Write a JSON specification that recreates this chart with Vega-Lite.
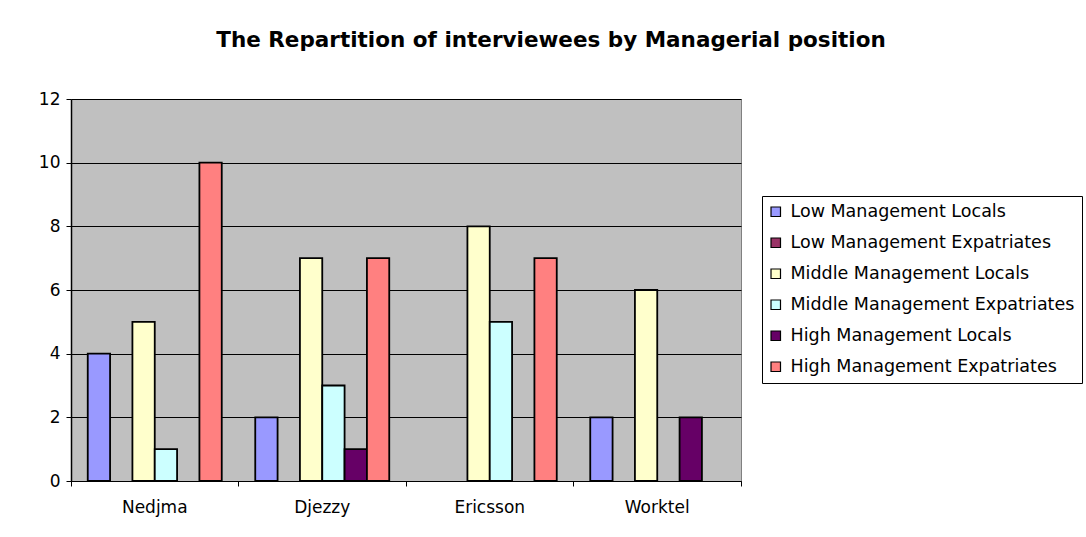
{
  "$schema": "https://vega.github.io/schema/vega-lite/v6.json",
  "autosize": {"type": "none"},
  "padding": {"left": 71, "top": 99, "right": 345, "bottom": 56},
  "width": 670,
  "height": 382,
  "background": "white",
  "title": {
    "text": "The Repartition of interviewees by Managerial position",
    "font": "DejaVu Sans",
    "fontSize": 21.5,
    "fontWeight": "bold",
    "color": "black",
    "anchor": "middle",
    "dx": 145,
    "offset": 39
  },
  "config": {
    "font": "DejaVu Sans",
    "view": {"fill": "#C0C0C0", "stroke": "#808080", "strokeWidth": 1}
  },
  "data": {
    "values": [
      {"company": "Nedjma", "series": "Low  Management Locals", "value": 4},
      {"company": "Nedjma", "series": "Low  Management Expatriates", "value": 0},
      {"company": "Nedjma", "series": "Middle Management Locals", "value": 5},
      {"company": "Nedjma", "series": "Middle Management Expatriates", "value": 1},
      {"company": "Nedjma", "series": "High Management Locals", "value": 0},
      {"company": "Nedjma", "series": "High Management Expatriates", "value": 10},
      {"company": "Djezzy", "series": "Low  Management Locals", "value": 2},
      {"company": "Djezzy", "series": "Low  Management Expatriates", "value": 0},
      {"company": "Djezzy", "series": "Middle Management Locals", "value": 7},
      {"company": "Djezzy", "series": "Middle Management Expatriates", "value": 3},
      {"company": "Djezzy", "series": "High Management Locals", "value": 1},
      {"company": "Djezzy", "series": "High Management Expatriates", "value": 7},
      {"company": "Ericsson", "series": "Low  Management Locals", "value": 0},
      {"company": "Ericsson", "series": "Low  Management Expatriates", "value": 0},
      {"company": "Ericsson", "series": "Middle Management Locals", "value": 8},
      {"company": "Ericsson", "series": "Middle Management Expatriates", "value": 5},
      {"company": "Ericsson", "series": "High Management Locals", "value": 0},
      {"company": "Ericsson", "series": "High Management Expatriates", "value": 7},
      {"company": "Worktel", "series": "Low  Management Locals", "value": 2},
      {"company": "Worktel", "series": "Low  Management Expatriates", "value": 0},
      {"company": "Worktel", "series": "Middle Management Locals", "value": 6},
      {"company": "Worktel", "series": "Middle Management Expatriates", "value": 0},
      {"company": "Worktel", "series": "High Management Locals", "value": 2},
      {"company": "Worktel", "series": "High Management Expatriates", "value": 0}
    ]
  },
  "transform": [{"filter": "datum.value > 0"}],
  "mark": {"type": "bar", "stroke": "black", "strokeWidth": 1.8},
  "encoding": {
    "x": {
      "field": "company",
      "type": "nominal",
      "sort": ["Nedjma", "Djezzy", "Ericsson", "Worktel"],
      "scale": {"domain": ["Nedjma", "Djezzy", "Ericsson", "Worktel"], "paddingInner": 0, "paddingOuter": 0},
      "axis": {
        "title": null,
        "labelAngle": 0,
        "labelFont": "DejaVu Sans",
        "labelFontSize": 17,
        "labelColor": "black",
        "labelPadding": 13,
        "domainColor": "black",
        "domainWidth": 1,
        "tickColor": "black",
        "tickSize": 5,
        "bandPosition": 1,
        "tickExtra": true
      }
    },
    "xOffset": {
      "field": "series",
      "type": "nominal",
      "scale": {
        "domain": ["Low  Management Locals", "Low  Management Expatriates", "Middle Management Locals", "Middle Management Expatriates", "High Management Locals", "High Management Expatriates"],
        "paddingInner": 0,
        "paddingOuter": 0.75
      }
    },
    "y": {
      "field": "value",
      "type": "quantitative",
      "scale": {"domain": [0, 12], "nice": false},
      "axis": {
        "title": null,
        "values": [0, 2, 4, 6, 8, 10, 12],
        "labelFont": "DejaVu Sans",
        "labelFontSize": 17,
        "labelColor": "black",
        "labelPadding": 6,
        "domainColor": "black",
        "domainWidth": 1.5,
        "tickColor": "black",
        "tickSize": 5,
        "gridColor": "black",
        "gridWidth": 1,
        "gridOpacity": 1
      }
    },
    "color": {
      "field": "series",
      "type": "nominal",
      "scale": {
        "domain": ["Low  Management Locals", "Low  Management Expatriates", "Middle Management Locals", "Middle Management Expatriates", "High Management Locals", "High Management Expatriates"],
        "range": ["#9999FF", "#993366", "#FFFFCC", "#CCFFFF", "#660066", "#FF8080"]
      },
      "legend": {
        "title": null,
        "orient": "none",
        "legendX": 691,
        "legendY": 97,
        "direction": "vertical",
        "fillColor": "white",
        "strokeColor": "black",
        "padding": 7,
        "labelFont": "DejaVu Sans",
        "labelFontSize": 17.5,
        "labelColor": "black",
        "labelLimit": 400,
        "labelOffset": 6,
        "symbolType": "square",
        "symbolSize": 90,
        "symbolOffset": -2,
        "symbolStrokeColor": "black",
        "symbolStrokeWidth": 1.2,
        "rowPadding": 12
      }
    }
  }
}
